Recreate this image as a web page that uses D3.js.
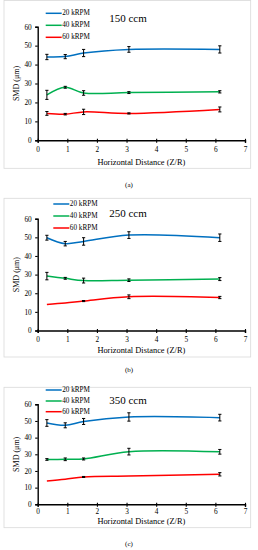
<!DOCTYPE html>
<html>
<head>
<meta charset="utf-8">
<script src="https://cdn.jsdelivr.net/npm/d3@7"></script>
<style>
  body { margin: 0; background: #fff; }
  text { font-family: "Liberation Serif", "DejaVu Serif", serif; fill: #000; }
</style>
</head>
<body>
<div id="chart"></div>
<script>
// horizontal distance (Z/R) of the measuring points
const xDist = [0.31, 0.93, 1.55, 3.08, 6.15];
const seriesNames = ["20 kRPM", "40 kRPM", "60 kRPM"];
const xTicks = [0, 1, 2, 3, 4, 5, 6, 7];
const yTicks = [0, 10, 20, 30, 40, 50, 60];
const panelTitles = ["150 ccm", "250 ccm", "350 ccm"];
const captions = ["(a)", "(b)", "(c)"];

// 150 ccm
const smd150_20 = [44.0, 44.2, 46.1, 48.0, 48.0];
const err150_20 = [1.4, 1.1, 1.9, 1.5, 1.9];
const smd150_40 = [24.0, 28.0, 25.0, 25.2, 25.6];
const err150_40 = [2.4, 0.5, 1.2, 0.5, 0.6];
const smd150_60 = [14.2, 13.8, 15.0, 14.2, 16.3];
const err150_60 = [1.0, 0.4, 1.4, 0.3, 1.3];

// 250 ccm
const smd250_20 = [49.8, 46.6, 47.8, 51.2, 49.8];
const err250_20 = [1.3, 1.2, 2.0, 1.8, 2.0];
const smd250_40 = [29.2, 28.0, 26.8, 27.0, 27.6];
const err250_40 = [2.0, 0.5, 1.3, 0.7, 0.8];
const smd250_60 = [14.0, 14.7, 15.8, 18.1, 17.7];
const err250_60 = [0.0, 0.0, 0.3, 1.0, 0.6];

// 350 ccm
const smd350_20 = [48.8, 47.4, 49.7, 52.4, 52.0];
const err350_20 = [2.0, 1.5, 1.8, 2.5, 2.0];
const smd350_40 = [26.9, 27.0, 27.2, 31.6, 31.5];
const err350_40 = [0.5, 0.8, 0.6, 2.0, 1.4];
const smd350_60 = [14.0, 15.0, 16.4, 17.0, 18.0];
const err350_60 = [0.0, 0.0, 0.3, 0.0, 1.0];

const panelValues = [
  [smd150_20, smd150_40, smd150_60],
  [smd250_20, smd250_40, smd250_60],
  [smd350_20, smd350_40, smd350_60]
];
const panelErrors = [
  [err150_20, err150_40, err150_60],
  [err250_20, err250_40, err250_60],
  [err350_20, err350_40, err350_60]
];

const colors = ["#0070C0", "#00B050", "#FF0000"];

// layout of the three stacked panels
const layout = [
  {frameTop: 0.5, frameBottom: 168.3, plotTop: 26.7, plotBottom: 140.3, titleY: 17.5,
   legendY: [13.3, 25.3, 37.3], legendX: 45.7, tickLabelDy: 9.7, xLabelY: 162, captionY: 185},
  {frameTop: 198.3, frameBottom: 357, plotTop: 218.7, plotBottom: 330.5, titleY: 212.7,
   legendY: [204, 216, 228], legendX: 53.3, tickLabelDy: 9.5, xLabelY: 350.7, captionY: 370},
  {frameTop: 387.3, frameBottom: 527.7, plotTop: 404.3, plotBottom: 504.3, titleY: 400,
   legendY: [390, 401, 411.7], legendX: 45.7, tickLabelDy: 8, xLabelY: 521, captionY: 544.3}
];

const W = 258, H = 550;
const left = 37.7, right = 245;

const svg = d3.select("#chart").append("svg")
  .attr("width", W)
  .attr("height", H);

const x = d3.scaleLinear().domain([0, 7]).range([left, right]);

layout.forEach((L, p) => {
  const g = svg.append("g");
  const y = d3.scaleLinear().domain([0, 60]).range([L.plotBottom, L.plotTop]);

  // outer frame
  g.append("rect")
    .attr("x", 4).attr("y", L.frameTop)
    .attr("width", 246.7).attr("height", L.frameBottom - L.frameTop)
    .attr("fill", "none")
    .attr("stroke", "#d9d9d9")
    .attr("stroke-width", 0.8);

  // axes
  const yAxis = g.append("g")
    .attr("transform", "translate(" + left + ",0)")
    .call(d3.axisLeft(y).tickValues(yTicks).tickFormat(d3.format("d"))
      .tickSize(2.5).tickPadding(3.5));
  const xAxis = g.append("g")
    .attr("transform", "translate(0," + L.plotBottom + ")")
    .call(d3.axisBottom(x).tickValues(xTicks).tickFormat(d3.format("d"))
      .tickSize(2.5).tickPadding(L.tickLabelDy - 6));

  [xAxis, yAxis].forEach(a => {
    a.select(".domain").attr("stroke", "#000").attr("stroke-width", 1.4);
    a.selectAll(".tick line").attr("stroke", "#000").attr("stroke-width", 1.1);
    a.selectAll(".tick text")
      .style("font-family", "'Liberation Serif', serif")
      .style("font-size", "7.3px")
      .attr("fill", "#222");
  });
  // x ticks cross the axis a little
  xAxis.selectAll(".tick line").attr("y1", -1.5);

  // axis titles
  g.append("text")
    .attr("x", (left + right) / 2)
    .attr("y", L.xLabelY)
    .attr("text-anchor", "middle")
    .attr("dominant-baseline", "central")
    .style("font-size", "8.4px")
    .text("Horizontal Distance (Z/R)");

  const midY = (L.plotTop + L.plotBottom) / 2;
  g.append("text")
    .attr("transform", "translate(16," + midY + ") rotate(-90)")
    .attr("text-anchor", "middle")
    .attr("dominant-baseline", "central")
    .style("font-size", "8px")
    .text("SMD (\u03bcm)");

  // panel title
  g.append("text")
    .attr("x", 128)
    .attr("y", L.titleY)
    .attr("text-anchor", "middle")
    .attr("dominant-baseline", "central")
    .style("font-size", "11px")
    .text(panelTitles[p]);

  // caption below frame
  svg.append("text")
    .attr("x", 129)
    .attr("y", L.captionY)
    .attr("text-anchor", "middle")
    .attr("dominant-baseline", "central")
    .style("font-size", "7px")
    .text(captions[p]);

  const line = d3.line()
    .x(d => x(d[0]))
    .y(d => y(d[1]))
    .curve(d3.curveCatmullRom.alpha(0.5));

  panelValues[p].forEach((vals, s) => {
    const pts = xDist.map((xv, i) => [xv, vals[i], panelErrors[p][s][i]]);

    g.append("path")
      .datum(pts)
      .attr("fill", "none")
      .attr("stroke", colors[s])
      .attr("stroke-width", 1.5)
      .attr("d", line);

    // error bars
    const eb = g.append("g").selectAll("g")
      .data(pts.filter(d => d[2] > 0))
      .enter().append("g");
    eb.append("line")
      .attr("x1", d => x(d[0])).attr("x2", d => x(d[0]))
      .attr("y1", d => y(d[1] - d[2])).attr("y2", d => y(d[1] + d[2]))
      .attr("stroke", "#000").attr("stroke-width", 1);
    eb.append("line")
      .attr("x1", d => x(d[0]) - 1.6).attr("x2", d => x(d[0]) + 1.6)
      .attr("y1", d => y(d[1] - d[2])).attr("y2", d => y(d[1] - d[2]))
      .attr("stroke", "#000").attr("stroke-width", 1);
    eb.append("line")
      .attr("x1", d => x(d[0]) - 1.6).attr("x2", d => x(d[0]) + 1.6)
      .attr("y1", d => y(d[1] + d[2])).attr("y2", d => y(d[1] + d[2]))
      .attr("stroke", "#000").attr("stroke-width", 1);

    // legend
    g.append("line")
      .attr("x1", L.legendX).attr("x2", L.legendX + 16)
      .attr("y1", L.legendY[s]).attr("y2", L.legendY[s])
      .attr("stroke", colors[s])
      .attr("stroke-width", 1.5);
    g.append("text")
      .attr("x", L.legendX + 16.5)
      .attr("y", L.legendY[s])
      .attr("dominant-baseline", "central")
      .style("font-size", "7.2px")
      .text(seriesNames[s]);
  });
});
</script>
</body>
</html>
